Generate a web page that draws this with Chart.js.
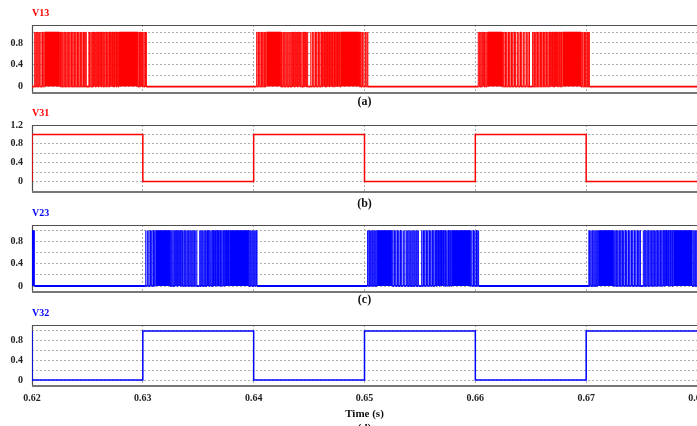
<!DOCTYPE html>
<html>
<head>
<meta charset="utf-8">
<script src="https://cdn.jsdelivr.net/npm/chart.js@4/dist/chart.umd.min.js"></script>
<style>
  html, body { margin: 0; padding: 0; background: #fff; overflow: hidden; width: 697px; height: 426px; }
  canvas { position: absolute; left: 0; }
</style>
</head>
<body>
<canvas id="p13" width="745" height="109" style="top:0px"></canvas>
<canvas id="p31" width="745" height="111" style="top:100px"></canvas>
<canvas id="p23" width="745" height="107" style="top:200px"></canvas>
<canvas id="p32" width="745" height="135" style="top:300px"></canvas>
<script>
// Time axis (s) and level grid
const timeTicks = [0.62, 0.63, 0.64, 0.65, 0.66, 0.67, 0.68];
const gridLevels = [0, 0.2, 0.4, 0.6, 0.8, 1];
const gridLevelsV31 = [0, 0.2, 0.4, 0.6, 0.8, 1, 1.2];
const levelLabels = [0, 0.4, 0.8];
const levelLabelsV31 = [0, 0.4, 0.8, 1.2];

// One PWM burst: [on, off] in ms after the start of its half-cycle
const burstPulsesMs = [
  [0.25, 0.28], [0.38, 0.43], [0.52, 0.55], [0.64, 0.70], [0.78, 0.81], [0.90, 0.96], [1.04, 1.07],
  [1.13, 2.45],
  [2.52, 2.56], [2.65, 2.72], [2.80, 2.83], [2.93, 3.00], [3.08, 3.10], [3.20, 3.27],
  [3.35, 3.38], [3.48, 3.56], [3.63, 3.65], [3.76, 3.82], [3.90, 3.93], [4.03, 4.10],
  [4.18, 4.20], [4.31, 4.36], [4.45, 4.48], [4.58, 4.64], [4.72, 4.74], [4.84, 4.88],
  [5.14, 5.17], [5.27, 5.32], [5.40, 5.43], [5.53, 5.60], [5.67, 5.70], [5.80, 5.88],
  [5.95, 5.98], [6.07, 6.15], [6.22, 6.26], [6.34, 6.43], [6.50, 6.55], [6.62, 6.72],
  [6.78, 6.84], [6.90, 7.00], [7.06, 7.13], [7.19, 7.30], [7.36, 7.44], [7.50, 7.62],
  [7.68, 7.78],
  [7.85, 9.55],
  [9.64, 9.69], [9.78, 9.84], [9.92, 9.95], [10.05, 10.10], [10.19, 10.22], [10.28, 10.30]
];
const v13BurstStarts = [0.62, 0.64, 0.66];
const v23BurstStarts = [0.63, 0.65, 0.67];
const v23LeadPulse = [0.62, 0.6202];

// Square-wave gate signals
const v31Time  = [0.62, 0.62, 0.63, 0.63, 0.64, 0.64, 0.65, 0.65, 0.66, 0.66, 0.67, 0.67, 0.68];
const v31Value = [0,    1,    1,    0,    0,    1,    1,    0,    0,    1,    1,    0,    0];
const v32Time  = [0.62, 0.62, 0.63, 0.63, 0.64, 0.64, 0.65, 0.65, 0.66, 0.66, 0.67, 0.67, 0.68];
const v32Value = [1,    0,    0,    1,    1,    0,    0,    1,    1,    0,    0,    1,    1];

const SERIF = "'Liberation Serif', 'Times New Roman', serif";
const RED = 'rgb(255,0,0)';
const BLUE = 'rgb(0,0,255)';

function pwmPoints(starts, lead) {
  const pulses = [];
  if (lead) pulses.push(lead);
  starts.forEach(s => burstPulsesMs.forEach(([a, b]) => pulses.push([s + a / 1000, s + b / 1000])));
  const pts = [{ x: timeTicks[0], y: 0 }];
  let last = timeTicks[0];
  pulses.forEach(([a, b]) => {
    pts.push({ x: a, y: 0 }, { x: a, y: 1 }, { x: b, y: 1 }, { x: b, y: 0 });
    last = b;
  });
  pts.push({ x: Math.max(timeTicks[timeTicks.length - 1], last), y: 0 });
  return pts;
}

function stepPoints(times, values) {
  return times.map((t, i) => ({ x: t, y: values[i] }));
}

// Plot frame: top, left and bottom edges of the plotting area
const framePlugin = {
  id: 'frame',
  beforeDatasetsDraw(chart) {
    const { ctx, chartArea: a } = chart;
    ctx.save();
    ctx.strokeStyle = '#505050';
    ctx.lineWidth = 1.2;
    ctx.beginPath();
    ctx.moveTo(a.left, a.top + 0.5);
    ctx.lineTo(a.right, a.top + 0.5);
    ctx.moveTo(a.left + 0.5, a.top);
    ctx.lineTo(a.left + 0.5, a.bottom);
    ctx.stroke();
    ctx.strokeStyle = '#777';
    ctx.lineWidth = 2;
    ctx.beginPath();
    ctx.moveTo(a.left, a.bottom + 1);
    ctx.lineTo(a.right, a.bottom + 1);
    ctx.stroke();
    ctx.restore();
  }
};

// Thicker stroke along the low level of a pulse train
const lowLevelWidth = c => (c.p0.parsed.y === 0 && c.p1.parsed.y === 0 ? 1.8 : 0.7);

function makePanel(cfg) {
  const tickFont = { family: SERIF, size: 10, weight: 'bold' };
  return new Chart(document.getElementById(cfg.id), {
    type: 'line',
    data: {
      datasets: [{
        data: cfg.points,
        borderColor: cfg.color,
        backgroundColor: cfg.color,
        borderWidth: cfg.pwm ? 0.7 : 1.5,
        segment: cfg.pwm ? { borderWidth: lowLevelWidth } : undefined,
        fill: cfg.pwm ? 'origin' : false,
        pointRadius: 0,
        tension: 0
      }]
    },
    options: {
      responsive: false,
      animation: false,
      events: [],
      parsing: false,
      normalized: true,
      layout: { padding: { left: 0, right: 745 - 697, top: 0, bottom: 0 } },
      plugins: {
        legend: { display: false },
        tooltip: { enabled: false },
        title: {
          display: true,
          text: cfg.label,
          align: 'start',
          fullSize: false,
          color: cfg.color,
          font: { family: SERIF, size: 10, weight: 'bold', lineHeight: 1.2 },
          padding: { top: 7, bottom: 6 }
        }
      },
      scales: {
        x: {
          type: 'linear',
          min: timeTicks[0],
          max: timeTicks[timeTicks.length - 1],
          afterBuildTicks: s => { s.ticks = timeTicks.map(v => ({ value: v })); },
          afterFit: s => { s.height = cfg.xAxisHeight; },
          grid: { color: '#adadad', lineWidth: 1, drawTicks: false },
          border: { display: false, dash: [2, 2] },
          ticks: {
            display: !!cfg.timeLabels,
            padding: 7,
            autoSkip: false,
            maxRotation: 0,
            color: '#222',
            font: tickFont,
            callback: v => Number(v).toFixed(2)
          },
          title: {
            display: true,
            text: cfg.xTitle,
            color: '#111',
            font: cfg.xTitleFont,
            padding: { top: 0, bottom: 0 }
          }
        },
        y: {
          min: cfg.yMin,
          max: cfg.yMax,
          afterBuildTicks: s => { s.ticks = cfg.grid.map(v => ({ value: v })); },
          afterFit: s => { s.width = 32; },
          grid: { color: '#adadad', lineWidth: 1, drawTicks: false },
          border: { display: false, dash: [2, 2] },
          ticks: {
            padding: 9,
            autoSkip: false,
            color: '#222',
            font: tickFont,
            callback: v => (cfg.labels.includes(v) ? String(v) : '')
          }
        }
      }
    },
    plugins: [framePlugin]
  });
}

const subFont = { family: SERIF, size: 12, weight: 'bold', lineHeight: 1.2 };

makePanel({
  id: 'p13', label: 'V13', color: RED, pwm: true,
  points: pwmPoints(v13BurstStarts, null),
  yMin: -0.1, yMax: 1.13, grid: gridLevels, labels: levelLabels,
  xTitle: '(a)', xTitleFont: subFont, xAxisHeight: 17
});
makePanel({
  id: 'p31', label: 'V31', color: RED, pwm: false,
  points: stepPoints(v31Time, v31Value),
  yMin: -0.2, yMax: 1.2, grid: gridLevelsV31, labels: levelLabelsV31,
  xTitle: '(b)', xTitleFont: subFont, xAxisHeight: 20
});
makePanel({
  id: 'p23', label: 'V23', color: BLUE, pwm: true,
  points: pwmPoints(v23BurstStarts, v23LeadPulse),
  yMin: -0.09, yMax: 1.1, grid: gridLevels, labels: levelLabels,
  xTitle: '(c)', xTitleFont: subFont, xAxisHeight: 16
});
makePanel({
  id: 'p32', label: 'V32', color: BLUE, pwm: false,
  points: stepPoints(v32Time, v32Value),
  yMin: -0.1, yMax: 1.12, grid: gridLevels, labels: levelLabels,
  xTitle: ['Time (s)', '(d)'],
  xTitleFont: { family: SERIF, size: 11, weight: 'bold', lineHeight: '14px' },
  xAxisHeight: 50, timeLabels: true
});
</script>
</body>
</html>
